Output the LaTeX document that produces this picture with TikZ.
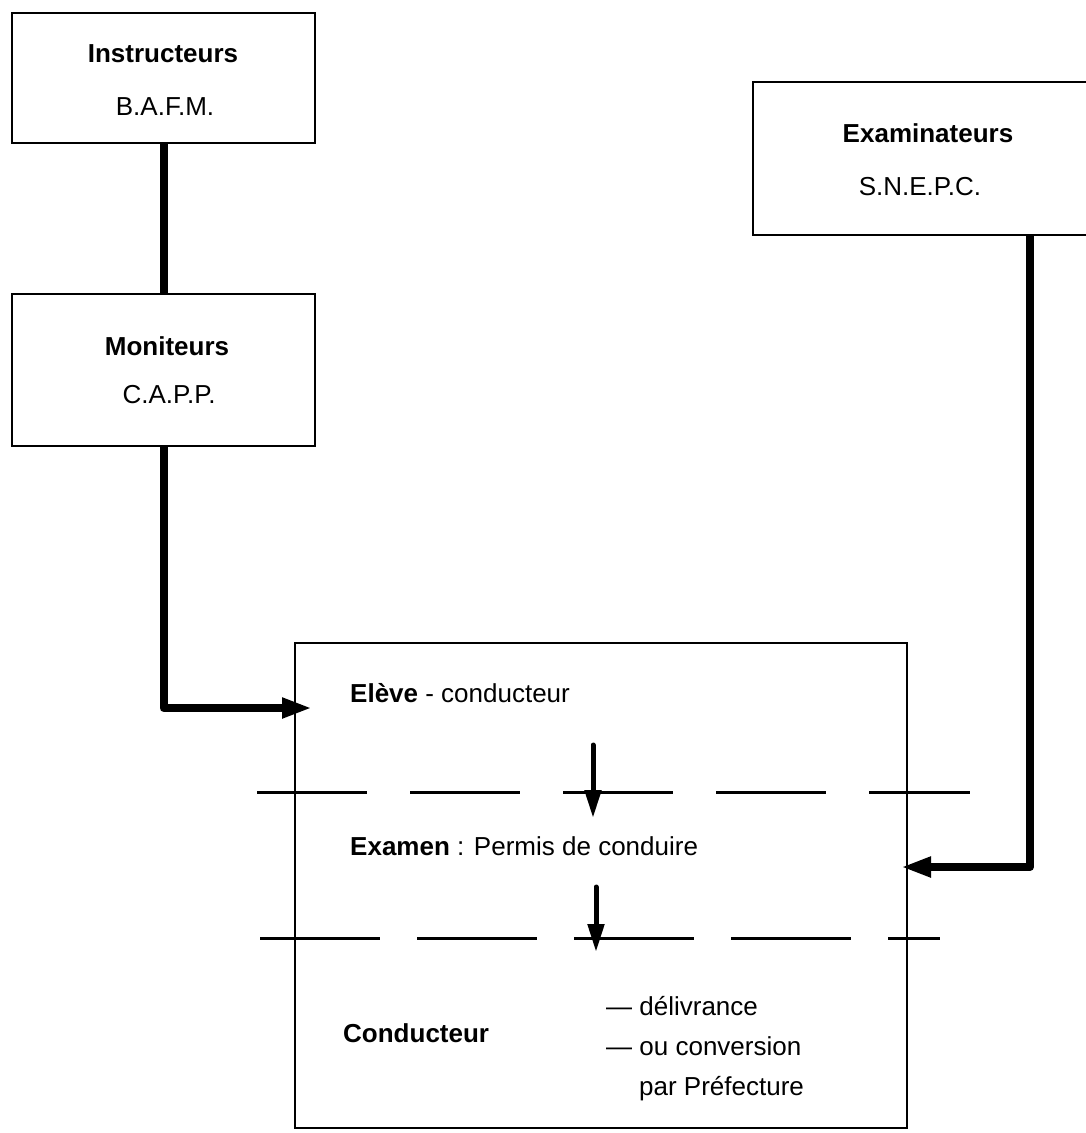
\documentclass[tikz,border=0pt]{standalone}
\usepackage{fontspec}
\setmainfont{Liberation Sans}
\usetikzlibrary{arrows.meta}
\begin{document}
\begin{tikzpicture}[x=1pt,y=1pt,
  box/.style={draw, line width=2.8pt, inner sep=0pt, rectangle},
  lbl/.style={anchor=base, inner sep=0pt, font=\fontsize{26}{30}\selectfont},
  lbll/.style={anchor=base west, inner sep=0pt, font=\fontsize{26}{30}\selectfont},
  link/.style={line width=8pt, line join=round},
  feed/.style={line width=8pt, line join=round, -{Triangle[length=30pt,width=19pt]}},
  flow/.style={line width=5pt, line cap=round, -{Triangle[length=28pt,width=16pt]}},
  sep/.style={line width=3pt}
]
\useasboundingbox (0,0) rectangle (1085,-1133);
\fill[white] (0,0) rectangle (1085,-1133);

% boxes
\node[box, minimum width=303pt, minimum height=130pt] (instr) at (163.5,-78) {};
\node[box, minimum width=303pt, minimum height=152pt] (mon) at (163.5,-370) {};
\node[box, minimum width=350pt, minimum height=153pt] (exam) at (928,-158.5) {};
\node[box, minimum width=612pt, minimum height=485pt] (big) at (601,-885.5) {};

% box texts
\node[lbl] (instrT) at (163,-62) {\bfseries Instructeurs};
\node[lbl] (instrS) at (165,-115) {B.A.F.M.};
\node[lbl] (monT) at (167,-355) {\bfseries Moniteurs};
\node[lbl] (monS) at (169,-403) {C.A.P.P.};
\node[lbl] (examT) at (928,-142) {\bfseries Examinateurs};
\node[lbl] (examS) at (920,-195) {S.N.E.P.C.};

% texts in the big box
\node[lbll] (eleve) at (350,-702) {\textbf{Elève} - conducteur};
\node[lbll] (examen) at (350,-855) {\textbf{Examen} : Permis de conduire};
\node[lbll] (cond) at (343,-1042) {\bfseries Conducteur};
\node[lbll] (deliv) at (606,-1015) {— délivrance};
\node[lbll] (conv) at (606,-1055) {— ou conversion};
\node[lbll] (pref) at (639,-1095) {par Préfecture};

% connectors
\draw[link] (instr.south) -- (mon.north);
\coordinate (eleveIn) at (312,-708);
\draw[feed] (mon.south) |- (eleveIn);
\coordinate (exOut) at (1030,-235);
\coordinate (examIn) at (901,-867);
\draw[feed] (exOut) |- (examIn);

% inner arrows
\coordinate (a1s) at (593,-745);
\coordinate (a1e) at (593,-818);
\coordinate (a2s) at (596,-887);
\coordinate (a2e) at (596,-952);
\draw[flow] (a1s) -- (a1e);
\draw[flow] (a2s) -- (a2e);

% dashed separators
\coordinate (d1s) at (257,-792);
\coordinate (d1e) at (970,-792);
\draw[sep, dash pattern=on 110pt off 43pt] (d1s) -- (d1e);
\coordinate (d2s) at (260,-938);
\coordinate (d2e) at (940,-938);
\draw[sep, dash pattern=on 120pt off 37pt] (d2s) -- (d2e);
\end{tikzpicture}
\end{document}
